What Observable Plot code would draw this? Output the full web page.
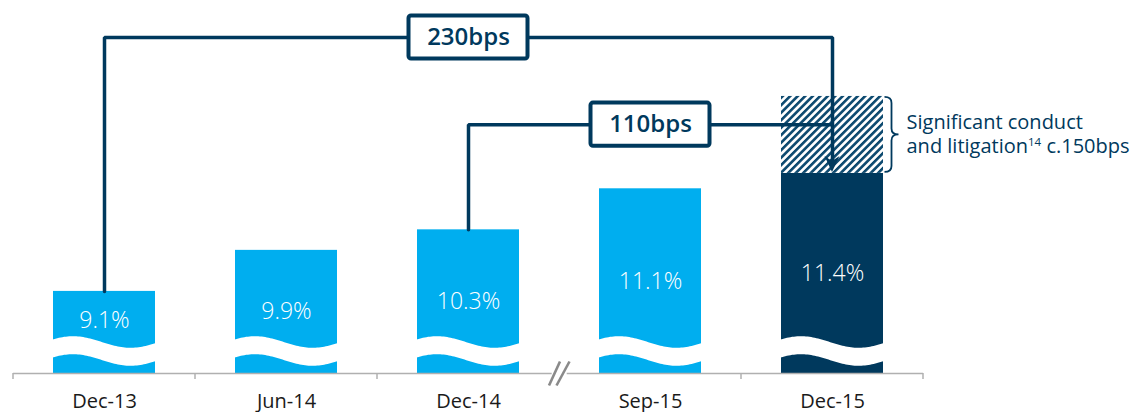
<!DOCTYPE html>
<html>
<head>
<meta charset="utf-8">
<script src="https://cdn.jsdelivr.net/npm/d3@7"></script>
<script src="https://cdn.jsdelivr.net/npm/@observablehq/plot@0.6"></script>
<style>
  html, body { margin: 0; padding: 0; background: #ffffff; }
  #chart svg { display: block; overflow: visible; }
</style>
</head>
<body>
<div id="chart"></div>
<script>
// ---------------- data ----------------
const periods = ["Dec-13", "Jun-14", "Dec-14", "Sep-15", "Dec-15"];
const ratios = [9.1, 9.9, 10.3, 11.1, 11.4];
const ratioLabels = ["9.1%", "9.9%", "10.3%", "11.1%", "11.4%"];
const conductBps = 150;
const conductLine1 = "Significant conduct";
const conductLine2a = "and litigation";
const conductSup = "14";
const conductLine2b = " c.150bps";
const bracketFrom = ["Dec-13", "Dec-14"];
const bracketTo = ["Dec-15", "Dec-15"];
const bracketLabels = ["230bps", "110bps"];
const axisBreakAfter = "Dec-14";

// ---------------- layout / style ----------------
const navy = "#00395d", blue = "#00aeef", axisGray = "#b0b0b0", textDark = "#1a1a1a";
const font = "'Open Sans', 'Noto Sans', sans-serif";
const yBase = 7.5, yTop = 14.77;
const labelFloor = 8.53;
const bracketLevels = [14.05, 12.35];
const bracketBoxAt = ["Dec-14", "Sep-15"];
const boxHalf = 0.42;

const rows = periods.map((p, i) => ({period: p, value: ratios[i], label: ratioLabels[i]}));
const valueOf = p => ratios[periods.indexOf(p)];
const last = periods[periods.length - 1];
const lastValue = ratios[ratios.length - 1];
const conductTop = lastValue + conductBps / 100;
const hatchRows = [{period: last, y1: lastValue, y2: conductTop}];

const bracketPaths = [];
bracketLabels.forEach((lab, i) => {
  const from = bracketFrom[i], to = bracketTo[i], L = bracketLevels[i];
  bracketPaths.push({id: lab, period: from, y: valueOf(from)});
  bracketPaths.push({id: lab, period: from, y: L});
  bracketPaths.push({id: lab, period: to, y: L});
  if (i === 0) bracketPaths.push({id: lab, period: to, y: valueOf(to) + 0.25});
});
const boxRows = bracketLabels.map((lab, i) => ({period: bracketBoxAt[i], y: bracketLevels[i], label: lab}));

const plot = Plot.plot({
  width: 1139,
  height: 412,
  marginLeft: 13,
  marginRight: 216,
  marginTop: 0,
  marginBottom: 39,
  style: {fontFamily: font, background: "white", overflow: "visible"},
  x: {domain: periods, paddingInner: 0.44, paddingOuter: 0.22},
  y: {domain: [yBase, yTop], axis: null},
  marks: [
    Plot.barY(rows.filter(d => d.period !== last), {x: "period", y1: yBase, y2: "value", fill: blue}),
    Plot.barY(rows.filter(d => d.period === last), {x: "period", y1: yBase, y2: "value", fill: navy}),
    Plot.barY(hatchRows, {x: "period", y1: "y1", y2: "y2", fill: "url(#conductHatch)"}),
    Plot.ruleY([yBase], {stroke: axisGray, strokeWidth: 1.5}),
    Plot.axisX({tickSize: 0, tickPadding: 20, fontSize: 20, fill: textDark, label: null}),
    Plot.text(rows, {
      x: "period",
      y: d => Math.max((yBase + d.value) / 2, labelFloor),
      text: "label", fill: "white", fontSize: 23, fontWeight: 300
    }),
    Plot.line(bracketPaths, {x: "period", y: "y", z: "id", stroke: navy, strokeWidth: 3.5, strokeLinejoin: "miter"}),
    Plot.barY(boxRows, {
      x: "period", y1: d => d.y - boxHalf, y2: d => d.y + boxHalf,
      fill: "white", stroke: navy, strokeWidth: 4, insetLeft: -8.5, insetRight: -8.5, rx: 2.5
    }),
    Plot.text(boxRows, {x: "period", y: "y", text: "label", fill: navy, fontSize: 24, fontWeight: 600})
  ]
});

document.getElementById("chart").appendChild(plot);

// ---------------- decorations drawn with the plot's own scales ----------------
const svg = d3.select(plot);
const xs = plot.scale("x"), ys = plot.scale("y");
const step = xs.step, bw = xs.bandwidth;
const y0 = ys.apply(yBase);

// hatch pattern
const defs = svg.insert("defs", ":first-child");
const pat = defs.append("pattern")
  .attr("id", "conductHatch")
  .attr("patternUnits", "userSpaceOnUse")
  .attr("width", 5.3).attr("height", 5.3)
  .attr("patternTransform", "rotate(45)");
pat.append("rect").attr("width", 5.3).attr("height", 5.3).attr("fill", "white");
pat.append("rect").attr("width", 2.6).attr("height", 5.3).attr("fill", "#0d4a70");

// white wave band across the bottom of every bar
const waveG = svg.append("g");
periods.forEach(p => {
  const x0 = xs.apply(p);
  const n = 60;
  const pts = d3.range(n + 1).map(i => x0 - 1 + (bw + 2) * i / n);
  const topY = x => y0 - 31 - 5.8 * Math.cos(2 * Math.PI * (x - x0 - 20) / 115);
  const top = pts.map(x => [x, topY(x)]);
  const bot = pts.slice().reverse().map(x => [x, topY(x) + 18]);
  waveG.append("path")
    .attr("d", "M" + top.map(d => d.join(",")).join("L") + "L" + bot.map(d => d.join(",")).join("L") + "Z")
    .attr("fill", "white");
});

// axis ticks at band boundaries, and the axis break
const start = xs.apply(periods[0]) - (step - bw) / 2;
const breakIndex = periods.indexOf(axisBreakAfter) + 1;
const axG = svg.append("g");
for (let k = 0; k <= periods.length; k++) {
  if (k === breakIndex) continue;
  const bx = start + k * step;
  axG.append("line").attr("x1", bx).attr("x2", bx).attr("y1", y0).attr("y2", y0 + 6)
    .attr("stroke", axisGray).attr("stroke-width", 1.5);
}
const cx = start + breakIndex * step;
axG.append("rect").attr("x", cx - 7.3).attr("y", y0 - 2).attr("width", 15).attr("height", 4).attr("fill", "white");
[[-10, 1], [-2.5, 10.5]].forEach(([a, b]) => {
  axG.append("line").attr("x1", cx + a).attr("y1", y0 + 12.5).attr("x2", cx + b).attr("y2", y0 - 11.5)
    .attr("stroke", "#8a8a8a").attr("stroke-width", 2.6);
});

// arrowhead at top of the reported Dec-15 bar
const acx = xs.apply(last) + bw / 2;
const tip = ys.apply(lastValue) - 1;
svg.append("path")
  .attr("d", `M${acx},${tip}L${acx - 7.5},${tip - 16}L${acx},${tip - 11}L${acx + 7.5},${tip - 16}Z`)
  .attr("fill", navy);

// brace and annotation
const bx0 = xs.apply(last) + bw + 1.5;
const bTop = ys.apply(conductTop) + 1, bBot = ys.apply(lastValue) - 1;
const bMid = (bTop + bBot) / 2, bW = 14, r = 6;
svg.append("path")
  .attr("d", `M${bx0},${bTop}Q${bx0 + bW / 2},${bTop} ${bx0 + bW / 2},${bTop + r}L${bx0 + bW / 2},${bMid - r}` +
             `Q${bx0 + bW / 2},${bMid} ${bx0 + bW},${bMid}Q${bx0 + bW / 2},${bMid} ${bx0 + bW / 2},${bMid + r}` +
             `L${bx0 + bW / 2},${bBot - r}Q${bx0 + bW / 2},${bBot} ${bx0},${bBot}`)
  .attr("fill", "none").attr("stroke", navy).attr("stroke-width", 1.8);

const ann = svg.append("text")
  .attr("fill", navy).attr("font-family", font).attr("font-size", 20)
  .attr("text-anchor", "start");
ann.append("tspan").attr("x", bx0 + 22).attr("y", bMid - 5).text(conductLine1);
ann.append("tspan").attr("x", bx0 + 22).attr("y", bMid + 19).text(conductLine2a);
ann.append("tspan").attr("dy", -7).attr("font-size", 11.5).text(conductSup);
ann.append("tspan").attr("dy", 7).text(conductLine2b);
</script>
</body>
</html>
